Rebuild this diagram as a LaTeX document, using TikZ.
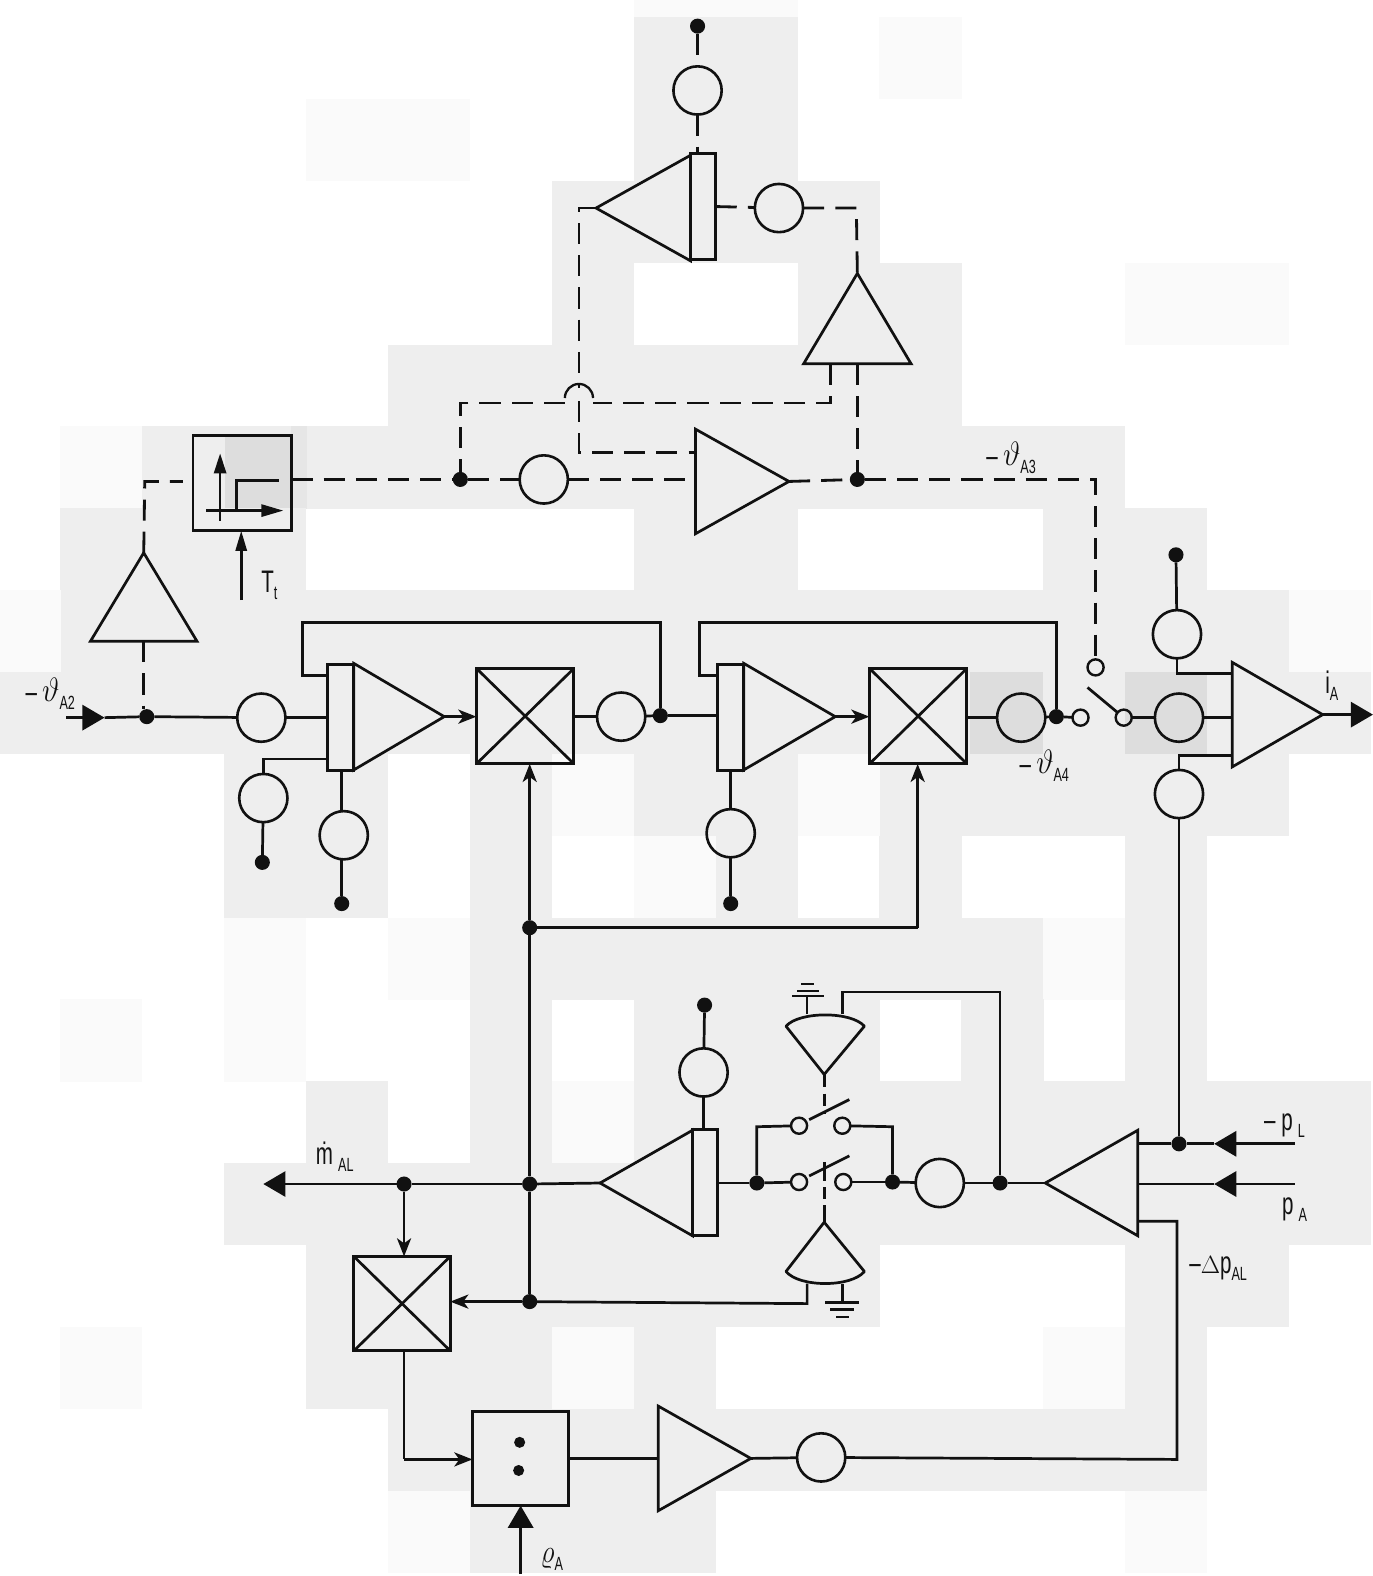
\documentclass[tikz,border=0pt]{standalone}
\usepackage{fontspec}
\usepackage{graphicx}
\setmainfont{Liberation Sans}
\newfontfamily\lab[FakeStretch=0.66]{Liberation Sans}
\usetikzlibrary{shapes.geometric,arrows.meta,calc}
\definecolor{tg}{HTML}{EEEEEE}
\definecolor{tf}{HTML}{FAFAFA}
\definecolor{td}{HTML}{DDDDDD}
\definecolor{tm}{HTML}{E6E6E6}
\definecolor{ink}{HTML}{111111}
\newcommand\tilerow[3]{\foreach \c in {#2} {\fill[#3] ({-21.5+81.5*\c},{17+81.45*#1}) rectangle ++(81.7,81.7);}}
\newcommand\lbl[2]{{\fontsize{31}{31}\selectfont\lab #1\raisebox{-7pt}{\fontsize{19}{19}\selectfont\lab #2}}}
\newcommand\thg{\raisebox{1pt}{\scalebox{1.2}[1.35]{$\vartheta$}}}
\newcommand\rhg{\raisebox{1pt}{\scalebox{1.1}[1.3]{$\varrho$}}}
\tikzset{
 wire/.style={draw=ink,line width=2.7pt},
 dsh/.style={draw=ink,line width=2.8pt,dash pattern=on 21pt off 11pt},
 ring/.style={circle,draw=ink,line width=2.6pt,minimum size=48pt,inner sep=0pt,outer sep=0pt},
 dot/.style={circle,fill=ink,minimum size=15pt,inner sep=0pt,outer sep=0pt},
 term/.style={circle,draw=ink,line width=2.4pt,minimum size=16pt,inner sep=0pt,outer sep=0pt},
 amp/.style n args={3}{isosceles triangle,isosceles triangle stretches,draw=ink,line width=2.7pt,shape border rotate=#1,minimum width=#2pt,minimum height=#3pt,inner sep=0pt,outer sep=0pt,anchor=apex},
 boxn/.style n args={2}{rectangle,draw=ink,line width=2.9pt,minimum width=#1pt,minimum height=#2pt,inner sep=0pt,outer sep=0pt},
 smallhead/.style={wire,-{Stealth[length=18pt,width=14pt,inset=5pt]}},
 bighead/.style={wire,-{Triangle[length=22pt,width=25pt]}},
 txt/.style={inner sep=0pt,outer sep=0pt,text=ink}
}
\begin{document}
\begin{tikzpicture}[x=1pt,y=-1pt]
\useasboundingbox (0,0) rectangle (1366,1568);
\fill[white] (0,0) rectangle (1366,1568);
% background tiles
\tilerow{-1}{8,9}{tf}
\tilerow{0}{8,9}{tg}\tilerow{0}{11}{tf}
\tilerow{1}{8,9}{tg}\tilerow{1}{4,5}{tf}
\tilerow{2}{7,8,9,10}{tg}
\tilerow{3}{7,10,11}{tg}\tilerow{3}{14,15}{tf}
\tilerow{4}{5,6,7,8,9,10,11}{tg}
\tilerow{5}{2,3,4,5,6,7,8,9,10,11,12,13}{tg}\tilerow{5}{1}{tf}
\fill[td] (224,433) rectangle (290,506);\fill[tm] (290,424) rectangle (305,506);
\tilerow{6}{1,2,3,8,9,13,14}{tg}
\tilerow{7}{1,2,3,4,5,6,7,8,9,10,11,12,13,14,15}{tg}\tilerow{7}{0,16}{tf}
\tilerow{8}{0,1,2,3,4,5,6,7,8,9,10,11,13,15,16}{tg}\tilerow{8}{14}{td}
\fill[tg] (956,669) rectangle (965,751);\fill[td] (965,669) rectangle (1038,751);
\tilerow{9}{3,4,6,8,9,11,12,13,14,15}{tg}\tilerow{9}{7,10}{tf}
\tilerow{10}{3,4,6,9,11,14}{tg}\tilerow{10}{8}{tf}
\tilerow{11}{6,7,8,9,10,11,12,14}{tg}\tilerow{11}{3,5,13}{tf}
\tilerow{12}{6,8,9,10,12,14}{tg}\tilerow{12}{1,3}{tf}
\tilerow{13}{4,6,8,9,10,11,12,13,14,15,16}{tg}\tilerow{13}{7}{tf}
\tilerow{14}{3,4,5,6,7,8,9,10,11,12,13,14,15,16}{tg}
\tilerow{15}{4,5,6,7,8,9,10,14,15}{tg}
\tilerow{16}{4,5,6,8,14}{tg}\tilerow{16}{1,7,13}{tf}
\tilerow{17}{5,6,7,8,9,10,11,12,13,14}{tg}
\tilerow{18}{6,7,8}{tg}\tilerow{18}{5,14}{tf}
\fill[white] (0,1565) rectangle (1366,1568);

% ---- top section
\node[dot] (dTop) at (694,26) {};
\node[ring] (rTop) at (694,90) {};
\node[boxn={25}{105}] (bTop) at (699.5,205.5) {};
\node[amp={180}{105}{94}] (tTop) at (593,207) {};
\node[ring] (rTop2) at (775,207) {};
\node[amp={90}{107}{90}] (tUp) at (853,272) {};
\node[amp={0}{104}{93}] (tMid) at (785,479) {};
\node[dot] (dL) at (458,477) {};
\node[dot] (dR) at (853,477) {};
\node[ring] (rMid) at (541,477) {};
\node[boxn={98}{95}] (fn) at (241,480.5) {};
\node[amp={90}{106}{88}] (tLeft) at (143,550) {};
\node[term] (tA3) at (1090,664) {};
\coordinate (cCorner1) at (852,207);
\coordinate (cCorner2) at (576,207);
\coordinate (cBridgeT) at (576,386);
\coordinate (cBridgeB) at (576,399);
\coordinate (cCorner3) at (576,450);
\coordinate (cPin3) at (692,450);
\coordinate (cPin2) at (826,362);
\coordinate (cCorner4) at (826,401);
\coordinate (cBr1) at (590,401);
\coordinate (cBr2) at (562,401);
\coordinate (cCorner5) at (458,401);
\coordinate (cCorner6) at (1090,477);
\coordinate (cCorner7) at (144,479);
\coordinate (cEndL) at (182,479);
\draw[dsh] (dTop) -- (rTop);
\draw[dsh] (rTop) -- (rTop |- bTop.north);
\draw[dsh] (bTop.east) -- (rTop2);
\draw[dsh] (rTop2) -- (cCorner1) -- (tUp.apex);
\draw[dsh] (tTop.apex) -- (cCorner2) -- (cBridgeT);
\draw[dsh] (cBridgeB) -- (cCorner3) -- (cPin3);
\draw[dsh] (cPin2) -- (cCorner4) -- (cBr1);
\draw[wire,line width=2.3pt] (cBr1) ++(0,-5) arc[start angle=0,end angle=-180,radius=14];
\draw[dsh] (cBr2) -- (cCorner5) -- (dL);
\draw[dsh] (dR |- tUp.south) -- (dR);
\draw[dsh] (fn.east |- dL) -- (dL);
\draw[dsh] (dL) -- (rMid);
\draw[dsh] (rMid) -- (tMid.west |- rMid);
\draw[dsh] (tMid.apex) -- (dR);
\draw[dsh] (dR) -- (cCorner6) -- (tA3);
\draw[dsh] (tLeft.apex) -- (cCorner7) -- (cEndL);
% function box contents
\coordinate (fnUpA) at (219,518); \coordinate (fnUpB) at (219,451);
\coordinate (fnRtA) at (205,508); \coordinate (fnRtB) at (282,508);
\coordinate (fnS1) at (235,507); \coordinate (fnS2) at (235,478); \coordinate (fnS3) at (278,478);
\coordinate (Tt) at (240,597);
\draw[wire,-{Triangle[length=20pt,width=12pt]}] (fnUpA) -- (fnUpB);
\draw[wire,-{Triangle[length=22pt,width=12pt]}] (fnRtA) -- (fnRtB);
\draw[wire] (fnS1) -- (fnS2) -- (fnS3);
\draw[wire,-{Triangle[length=20pt,width=11pt]}] (Tt) -- (fn.south -| Tt);
\node[txt] (lTt) at (268,582) {\lbl{T}{t}};

% ---- main row
\coordinate (inA) at (66,714); \coordinate (inTip) at (104,714);
\node[dot] (dA) at (146,713) {};
\node[ring] (rA) at (260,714) {};
\node[boxn={26}{106}] (bA) at (339,714) {};
\node[amp={0}{106}{90}] (tA) at (442,713) {};
\node[boxn={97}{95}] (xA) at (522.5,712.5) {};
\node[ring] (rB) at (618,713) {};
\node[dot] (dB) at (657,712) {};
\node[boxn={26}{106}] (bB) at (727,714) {};
\node[amp={0}{106}{91}] (tB) at (831,713) {};
\node[boxn={97}{95}] (xB) at (913.5,712.5) {};
\node[ring] (rC) at (1016,714) {};
\node[dot] (dC) at (1051,713) {};
\node[term] (tC) at (1075,714) {};
\node[term] (tD) at (1118,714) {};
\coordinate (swEnd) at (1082,684);
\node[ring] (rD) at (1173,714) {};
\node[amp={0}{104}{90}] (tE) at (1316,711) {};
\coordinate (outTip) at (1366,711);
\node[ring] (rU) at (1171,631) {};
\node[dot] (dU) at (1170,552) {};
\node[ring] (rV) at (1173,790) {};
\coordinate (eU1) at (1171,670); \coordinate (eU2) at (1226,670);
\coordinate (eV1) at (1173,752); \coordinate (eV2) at (1226,752);
\node[ring] (rE) at (262,794) {};
\node[dot] (dE) at (261,858) {};
\node[ring] (rF) at (342,831) {};
\node[dot] (dF) at (340,899) {};
\node[ring] (rG) at (727,829) {};
\node[dot] (dG) at (727,899) {};
\coordinate (fA1) at (657,619); \coordinate (fA2) at (301,619); \coordinate (fA3) at (301,672); \coordinate (fA4) at (326,672);
\coordinate (fB1) at (1051,619); \coordinate (fB2) at (696,619); \coordinate (fB3) at (696,672); \coordinate (fB4) at (714,672);
\coordinate (eE1) at (262,755); \coordinate (eE2) at (326,755);
\draw[bighead] (inA) -- (inTip);
\draw[wire] (inTip) -- (dA);
\draw[dsh] (tLeft.south) -- (dA.north -| tLeft.south);
\draw[wire] (dA) -- (rA);
\draw[wire] (rA) -- (bA.west |- rA);
\draw[smallhead] (tA.apex) -- (xA.west |- tA.apex);
\draw[wire] (xA.east |- rB) -- (rB);
\draw[wire] (rB) -- (dB);
\draw[wire] (dB) -- (bB.west |- dB);
\draw[wire] (dB) -- (fA1) -- (fA2) -- (fA3) -- (fA4);
\draw[smallhead] (tB.apex) -- (xB.west |- tB.apex);
\draw[wire] (xB.east |- rC) -- (rC);
\draw[wire] (rC) -- (dC);
\draw[wire] (dC) -- (tC);
\draw[wire] (dC) -- (fB1) -- (fB2) -- (fB3) -- (fB4);
\draw[wire] (swEnd) -- (tD);
\draw[wire] (tD) -- (rD);
\draw[wire] (rD) -- (tE.west |- rD);
\draw[bighead] (tE.apex) -- (outTip);
\draw[wire] (dU) -- (rU);
\draw[wire] (rU) -- (eU1) -- (eU2);
\draw[wire] (rV) -- (eV1) -- (eV2);
\draw[wire] (rE) -- (eE1) -- (eE2);
\draw[wire] (rE) -- (dE);
\draw[wire] (rF.north -| dF) -- (dF |- bA.south);
\draw[wire] (rF.south -| dF) -- (dF);
\draw[wire] (rG) -- (rG |- bB.south);
\draw[wire] (rG) -- (dG);
\draw[wire] (xA.north west) -- (xA.south east);
\draw[wire] (xA.north east) -- (xA.south west);
\draw[wire] (xB.north west) -- (xB.south east);
\draw[wire] (xB.north east) -- (xB.south west);
\node[txt,anchor=center] (lA2) at (50,690) {\lbl{–\,\thg}{A2}};
\node[txt,anchor=center] (lA3) at (1006,456) {\lbl{–\,\thg}{A3}};
\node[txt,anchor=center] (lA4) at (1039,762) {\lbl{–\,\thg}{A4}};
\node[txt,anchor=center] (liA) at (1325,682) {\lbl{i}{A}};

% ---- vertical bus
\node[dot] (dBus1) at (527,923) {};
\node[dot] (dBus2) at (527,1178) {};
\node[dot] (dBus3) at (527,1295) {};
\coordinate (cBus) at (913,923);
\draw[smallhead] (dBus1) -- (dBus1 |- xA.south);
\draw[wire] (dBus1) -- (cBus);
\draw[smallhead] (cBus) -- (cBus |- xB.south);
\draw[wire] (dBus1) -- (dBus2);
\draw[wire] (dBus2) -- (dBus3);

% ---- lower section
\coordinate (outL) at (262,1178);
\node[dot] (dM) at (402,1178) {};
\node[amp={180}{105}{92}] (tF) at (597,1177) {};
\node[boxn={25}{105}] (bF) at (701.5,1176.5) {};
\node[ring] (rH) at (700,1067) {};
\node[dot] (dH) at (701,1000) {};
\node[dot] (d1) at (753,1177) {};
\node[term] (s1) at (795,1176) {};
\node[term] (s2) at (839,1176) {};
\node[term] (s3) at (795,1120) {};
\node[term] (s4) at (838,1120) {};
\node[dot] (d2) at (888,1176) {};
\node[ring] (rI) at (935,1177) {};
\node[dot] (d3) at (995,1177) {};
\node[amp={180}{105}{92}] (tG) at (1040,1177) {};
\coordinate (c1a) at (753,1121); \coordinate (c2a) at (888,1121);
\coordinate (blA1) at (805,1114); \coordinate (blA2) at (845,1094);
\coordinate (blB1) at (805,1170); \coordinate (blB2) at (845,1150);
\coordinate (dashU1) at (820,1069); \coordinate (dashU2) at (820,1108);
\coordinate (dashL1) at (820,1156); \coordinate (dashL2) at (820,1216);
% comparators
\draw[wire,line join=round] (820,1069) -- (782,1021) .. controls (795,1006) and (847,1006) .. (860,1021) -- cycle;
\draw[wire,line join=round] (820,1216) -- (782,1265) .. controls (795,1281) and (847,1281) .. (860,1265) -- cycle;
\coordinate (gU) at (803,1009); \coordinate (gUb) at (803,991);
\coordinate (cmpR1) at (838,1009); \coordinate (cmpR2) at (838,987); \coordinate (cmpR3) at (995,987);
\coordinate (gL) at (838,1277); \coordinate (gLb) at (838,1296);
\coordinate (cmpL1) at (803,1277); \coordinate (cmpL2) at (803,1297);
\draw[wire] (gU) -- (gUb);
\draw[wire] (788,991) -- (820,991);
\draw[wire] (793,986) -- (815,986);
\draw[wire,line width=2.2pt] (797,979) -- (810,979);
\draw[wire] (cmpR1) -- (cmpR2) -- (cmpR3) -- (d3);
\draw[wire] (gL) -- (gLb);
\draw[wire] (821,1296) -- (855,1296);
\draw[wire] (826,1303) -- (850,1303);
\draw[wire,line width=2.2pt] (832,1310) -- (845,1310);
\draw[wire] (cmpL1) -- (cmpL2) -- (dBus3);
\draw[dsh,dash pattern=on 12pt off 7pt] (dashU1) -- (dashU2);
\draw[dsh,dash pattern=on 19pt off 6pt on 12pt off 6pt] (dashL1) -- (dashL2);
% switches
\draw[wire] (bF.east |- d1) -- (d1);
\draw[wire] (d1) -- (s1);
\draw[wire] (s2) -- (d2);
\draw[wire] (d1) -- (c1a) -- (s3);
\draw[wire] (s4) -- (c2a) -- (d2);
\draw[wire] (blA1) -- (blA2);
\draw[wire] (blB1) -- (blB2);
\draw[wire] (d2) -- (rI);
\draw[wire] (rI) -- (d3);
\draw[wire] (d3) -- (tG.apex);
\draw[wire] (tF.apex) -- (dBus2);
\draw[wire] (dBus2) -- (dM);
\draw[bighead] (dM) -- (outL);
\draw[wire] (rH) -- (rH |- bF.north);
\draw[wire] (dH) -- (rH);
% right inputs
\node[dot] (dP) at (1173,1138) {};
\coordinate (pL) at (1288,1138); \coordinate (pLt) at (1208,1138);
\coordinate (pA) at (1288,1178); \coordinate (pAt) at (1208,1178);
\draw[bighead] (pL) -- (pLt);
\draw[wire] (pLt) -- (dP);
\draw[wire] (dP) -- (tG.east |- dP);
\draw[bighead] (pA) -- (pAt);
\draw[wire] (pAt) -- (tG.east |- pAt);
\draw[wire] (rV) -- (dP);
\node[txt] (lpL) at (1278,1120) {\lbl{– p\,}{L}};
\node[txt] (lpA) at (1288,1203) {\lbl{p\,}{A}};
\node[txt] (lDp) at (1212,1262) {\lbl{–$\Delta$p}{AL}};
\node[txt] (lm) at (333,1151) {\lbl{ṁ\,}{AL}};
% flow block
\node[boxn={96}{94}] (xC) at (400,1297) {};
\node[boxn={96}{94}] (dv) at (518,1451) {};
\node[dot,minimum size=11pt] (dv1) at (517,1435) {};
\node[dot,minimum size=11pt] (dv2) at (516,1463) {};
\node[amp={0}{104}{92}] (tH) at (747,1451) {};
\node[ring] (rJ) at (817,1450) {};
\coordinate (cFl1) at (402,1452);
\coordinate (cFl2) at (1171,1452);
\coordinate (cFl3) at (1171,1215);
\coordinate (cFl4) at (1132,1215);
\coordinate (rhoB) at (518,1566);
\draw[smallhead] (dM) -- (dM |- xC.north);
\draw[smallhead] (dBus3) -- (xC.east |- dBus3);
\draw[wire] (xC.north west) -- (xC.south east);
\draw[wire] (xC.north east) -- (xC.south west);
\draw[wire] (cFl1 |- xC.south) -- (cFl1);
\draw[smallhead] (cFl1) -- (dv.west |- cFl1);
\draw[wire] (dv.east) -- (tH.west |- dv.east);
\draw[wire] (tH.apex) -- (rJ);
\draw[wire] (rJ) -- (cFl2) -- (cFl3) -- (cFl4);
\draw[bighead] (rhoB) -- (dv.south -| rhoB);
\node[txt] (lrho) at (549,1552) {\lbl{\rhg}{A}};
\end{tikzpicture}
\end{document}
